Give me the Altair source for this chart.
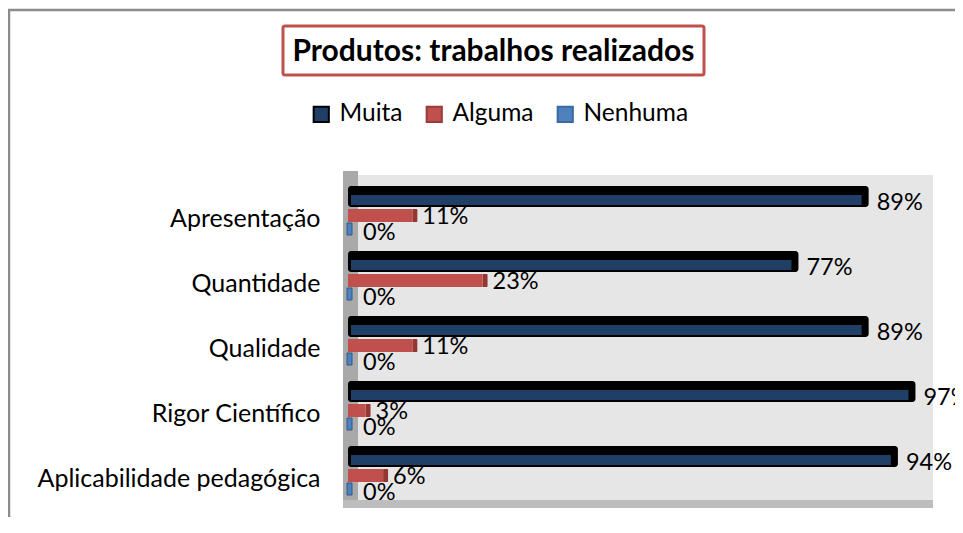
import altair as alt
import pandas as pd

categories = ["Apresentação", "Quantidade", "Qualidade", "Rigor Científico", "Aplicabilidade pedagógica"]
series = ["Muita", "Alguma", "Nenhuma"]
muita = [89, 77, 89, 97, 94]
alguma = [11, 23, 11, 3, 6]
nenhuma = [0, 0, 0, 0, 0]
title_text = "Produtos: trabalhos realizados"

colors = ["#1F3F66", "#C0504D", "#4F81BD"]
FONT = "Lato"
FS_AXIS = 25
FS_LAB = 23.5
FS_LEG = 24.5

rows = []
for s, vals in zip(series, [muita, alguma, nenhuma]):
    for c, v in zip(categories, vals):
        rows.append({"cat": c, "serie": s, "val": v, "lab": f"{v}%"})
df = pd.DataFrame(rows)

W, H = 585, 325

base = alt.Chart(df)
yenc = alt.Y("cat:N", sort=categories, title=None,
             scale=alt.Scale(paddingInner=0, paddingOuter=0),
             axis=alt.Axis(labelFont=FONT, labelFontSize=FS_AXIS, labelColor="black",
                           ticks=False, domain=False, labelPadding=28, labelOffset=11,
                           labelLimit=400))
xenc = alt.X("val:Q", scale=alt.Scale(domain=[0, 100]), axis=None)
zero = alt.datum(0)
colenc = alt.Color("serie:N", scale=alt.Scale(domain=series, range=colors),
                   legend=alt.Legend(title=None, orient="none", legendX=-39, legendY=-73,
                                     direction="horizontal", labelFont=FONT, labelFontSize=FS_LEG,
                                     labelColor="black", symbolType="square", symbolSize=230,
                                     labelOffset=6, columnPadding=19,
                                     symbolStrokeWidth=2))
strokeenc = alt.Stroke("serie:N", scale=alt.Scale(domain=series, range=["black", "#9B3B38", "#3A6AA3"]),
                       legend=None)

# decorations
deco_df = pd.DataFrame({"k": [0]})
deco = alt.Chart(deco_df)
panel = deco.mark_rect(color="#E6E6E6").encode(
    x=alt.value(10), x2=alt.value(W), y=alt.value(0), y2=alt.value(H))
wall = deco.mark_rect(color="#A9A9A9").encode(
    x=alt.value(-5), x2=alt.value(10), y=alt.value(-4), y2=alt.value(H + 8))
floor = deco.mark_rect(color="#BDBDBD").encode(
    x=alt.value(-5), x2=alt.value(W), y=alt.value(H), y2=alt.value(H + 8))
border_left = deco.mark_rule(color="#8C8C8C", strokeWidth=2.5).encode(
    x=alt.value(-339), y=alt.value(-165), y2=alt.value(420))
border_top = deco.mark_rule(color="#8C8C8C", strokeWidth=2.5).encode(
    x=alt.value(-340), x2=alt.value(700), y=alt.value(-165))
title_box = deco.mark_rect(fill="white", stroke="#C0504D", strokeWidth=3, cornerRadius=2).encode(
    x=alt.value(-65), x2=alt.value(356), y=alt.value(-149), y2=alt.value(-100))
title = deco.mark_text(text=title_text, font=FONT, fontSize=30, fontWeight="bold",
                       color="black", align="center", baseline="middle").encode(
    x=alt.value(145.5), y=alt.value(-123))

# Muita
m = base.transform_filter(alt.datum.serie == "Muita")
m_black = m.mark_bar(color="black", height=21, yOffset=-11, cornerRadiusEnd=3).encode(
    x=xenc, x2=zero, y=yenc)
m_inner = m.mark_bar(height=10, yOffset=-7.5, xOffset=-7, x2Offset=3).encode(
    x=xenc, x2=zero, y=yenc, color=colenc, stroke=strokeenc, strokeWidth=alt.value(0))
# Alguma
a = base.transform_filter(alt.datum.serie == "Alguma")
a_side = a.mark_bar(color="#943634", height=13, yOffset=8, xOffset=5, cornerRadius=1).encode(
    x=xenc, x2="val:Q", y=yenc)
a_bar = a.mark_bar(height=13, yOffset=8).encode(
    x=xenc, x2=zero, y=yenc, color=colenc, stroke=strokeenc, strokeWidth=alt.value(0))
# Nenhuma
n = base.transform_filter(alt.datum.serie == "Nenhuma")
n_side = n.mark_bar(color="#4F81BD", stroke="#2E5A8C", strokeWidth=1, height=12, yOffset=21.5,
                    xOffset=4, x2Offset=-1).encode(x=xenc, x2="val:Q", y=yenc)
n_bar = n.mark_bar(height=12, yOffset=21.5).encode(
    x=xenc, x2=zero, y=yenc, color=colenc, stroke=strokeenc, strokeWidth=alt.value(0))

lab_common = dict(font=FONT, fontSize=FS_LAB, color="black", align="left", baseline="middle")
m_lab = m.mark_text(dx=8, yOffset=-5, **lab_common).encode(x=xenc, y=yenc, text="lab:N")
a_lab = a.mark_text(dx=10, yOffset=9.5, **lab_common).encode(x=xenc, y=yenc, text="lab:N")
n_lab = n.mark_text(dx=15, yOffset=25, **lab_common).encode(x=xenc, y=yenc, text="lab:N")

chart = alt.layer(
    border_left, border_top, panel, wall, floor, title_box, title,
    n_side, n_bar, a_side, a_bar, m_black, m_inner,
    n_lab, a_lab, m_lab,
).properties(
    width=W, height=H,
    autosize=alt.AutoSizeParams(type="none"),
    padding={"left": 340, "top": 167, "right": 22, "bottom": 17},
    background="white",
).configure_view(stroke=None)

chart.save("out.html", embed_options={"renderer": "svg", "actions": False})
